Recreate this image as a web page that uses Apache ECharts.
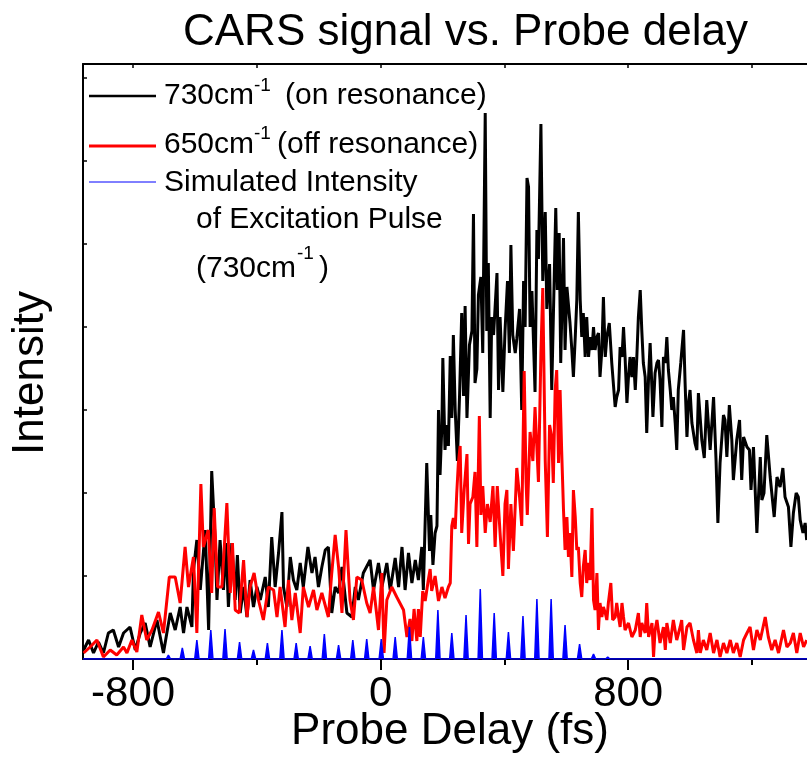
<!DOCTYPE html>
<html>
<head>
<meta charset="utf-8">
<script src="https://cdn.jsdelivr.net/npm/echarts@6/dist/echarts.min.js"></script>
<style>
html,body{margin:0;padding:0;background:#fff;}
#chart{width:807px;height:760px;}
</style>
</head>
<body>
<div id="chart"></div>
<script>
// ---- data (probe delay in fs, intensity in arbitrary units) ----
const onResDelay = [-960,-944,-928,-912,-896,-880,-864,-847,-831,-810,-793,-777,-761,-745,-723,-702,-680,-664,-648,-637,-626,-610,-605,-594,-583,-567,-556,-546,-535,-529,-519,-508,-500,-492,-481,-470,-463,-454,-443,-432,-422,-411,-400,-389,-373,-363,-352,-341,-330,-319,-314,-303,-292,-282,-271,-260,-250,-235,-222,-212,-201,-190,-179,-169,-158,-147,-136,-125,-109,-93,-82,-72,-56,-34,-23,-7,4,20,31,47,58,69,79,90,101,112,122,133,138,149,158,162,169,176,182,187,192,198,201,208,214,219,225,230,235,241,248,255,262,268,273,279,287,295,300,305,311,316,324,330,338,343,348,354,359,365,376,381,386,395,402,410,416,421,427,435,440,449,456,462,467,473,478,483,489,499,505,510,518,524,532,537,546,553,566,571,577,582,591,596,602,607,612,618,623,629,634,639,645,650,655,661,666,672,677,683,688,693,699,704,709,715,720,726,731,739,747,752,758,763,769,774,780,785,790,796,801,806,812,817,823,828,833,839,844,849,855,860,866,871,877,880,887,893,898,903,909,914,920,925,930,936,941,946,952,957,962,970,979,984,990,995,1000,1006,1011,1016,1022,1027,1038,1046,1054,1065,1076,1084,1090,1097,1108,1113,1119,1127,1135,1140,1151,1160,1167,1173,1184,1192,1197,1205,1216,1227,1232,1239,1248,1259,1272,1281,1291,1300,1307,1318,1326,1334,1343,1350,1356,1365,1372,1377];
const onResSignal = [9,19,6,17,6,26,29,12,26,32,9,26,36,12,39,6,46,29,52,26,52,32,89,119,69,129,29,188,119,59,119,69,116,52,116,59,104,46,72,42,79,52,72,59,82,52,122,72,106,147,72,52,102,79,69,96,72,112,86,102,72,92,109,112,46,72,66,92,46,42,72,59,86,99,69,96,72,96,69,101,72,112,69,106,76,99,79,112,69,196,108,144,94,126,133,249,184,234,301,209,234,213,303,241,324,249,198,263,346,263,353,241,314,328,445,276,290,364,382,306,546,328,396,241,342,324,386,269,342,267,328,378,306,414,324,306,320,350,249,378,332,481,472,332,368,267,429,400,535,378,447,350,395,269,451,369,426,296,421,309,372,372,336,309,282,322,359,447,359,322,346,302,342,302,322,309,332,309,322,326,282,309,362,302,322,336,296,276,252,262,269,312,302,332,302,256,282,302,282,302,269,302,342,369,329,296,282,226,282,316,269,242,286,296,299,279,232,302,296,322,289,269,249,262,236,209,269,296,329,276,222,256,269,236,236,216,209,266,219,201,259,209,262,199,136,196,244,239,202,254,219,179,219,239,179,222,212,209,169,212,126,202,159,166,224,182,142,182,172,191,162,152,112,146,166,162,139,126,136,119];

const offResDelay = [-960,-939,-917,-896,-874,-853,-831,-820,-804,-788,-772,-756,-739,-718,-702,-683,-664,-648,-632,-621,-605,-594,-581,-573,-557,-546,-538,-527,-513,-497,-486,-479,-470,-457,-443,-432,-422,-409,-395,-379,-363,-346,-335,-325,-309,-298,-287,-276,-260,-250,-233,-217,-206,-190,-169,-158,-147,-136,-125,-112,-99,-88,-77,-61,-45,-34,-23,-7,4,11,20,36,52,74,85,95,101,108,117,122,128,136,144,154,160,165,176,187,198,208,219,225,230,235,241,246,251,257,262,270,279,284,289,298,305,311,319,324,330,338,345,354,363,370,377,386,395,402,408,413,421,429,440,449,456,464,470,474,483,492,499,510,518,524,532,539,546,553,558,564,569,575,580,585,591,596,602,607,612,618,623,629,634,639,645,650,655,661,666,672,677,683,688,693,699,704,709,715,720,726,731,736,744,750,758,763,769,774,780,785,790,801,812,823,833,839,844,855,860,866,877,882,887,893,903,914,920,925,936,946,957,968,973,979,990,1000,1011,1022,1027,1033,1043,1054,1065,1076,1087,1097,1108,1119,1130,1140,1151,1162,1173,1184,1194,1205,1216,1227,1243,1253,1264,1275,1286,1302,1313,1324,1334,1345,1356,1367,1377];
const offResSignal = [6,12,19,2,9,4,12,6,19,7,44,19,29,47,26,82,82,56,112,72,102,26,175,112,129,66,151,72,72,156,66,116,49,46,99,42,72,86,59,39,72,69,42,72,32,79,39,66,26,72,52,69,49,66,42,86,124,92,46,129,59,39,82,79,56,46,72,29,86,6,59,72,62,49,22,40,18,50,18,50,22,68,58,79,90,68,83,58,72,61,72,76,133,141,130,166,195,213,126,169,205,115,155,162,187,112,243,144,173,126,155,137,173,112,173,126,83,155,169,90,155,108,191,162,133,288,177,144,227,198,252,177,306,371,198,122,234,222,176,269,289,196,269,209,149,109,142,102,126,82,169,142,109,112,76,62,92,109,76,96,79,151,59,49,86,29,56,42,52,46,39,56,76,39,42,56,42,32,56,42,29,36,22,29,46,22,36,26,56,22,36,2,29,39,16,32,9,36,16,39,19,32,39,9,32,36,19,6,29,6,19,9,26,6,19,2,16,6,19,6,16,2,19,26,32,9,29,19,42,22,9,19,6,29,12,16,26,6,26,12,19];

// simulated excitation pulse train (730 cm-1): peak centres and heights
const pulseCenter = [-686,-641,-594,-549,-503,-456,-411,-366,-319,-273,-228,-182,-136,-90,-45,2,47,93,138,185,230,276,322,367,413,460,505,551,596,643,688,734];
const pulseHeight = [4,11,19,29,30,17,9,16,29,16,13,25,14,19,20,20,22,32,22,49,26,44,70,46,27,43,60,60,34,15,5,2];
const pulseHalfWidth = 7;

const xTickMajor = [-800, 0, 800];
const xTickMinor = [-400, 400, 1200];
const xTickTop = [-800, -400, 0, 400, 800, 1200];

const delayMin = -962, delayMax = 1378;
const intensityMax = 595, intensityStep = 83;

// ---- build series data ----
const zip = (a, b) => a.map((v, i) => [v, b[i]]);
const pulseData = [[delayMin, 0]];
pulseCenter.forEach((c, i) => {
  pulseData.push([c - pulseHalfWidth, 0], [c, pulseHeight[i]], [c + pulseHalfWidth, 0]);
});
pulseData.push([delayMax, 0]);

const FF = '"Liberation Sans", Arial, Helvetica, sans-serif';
const chart = echarts.init(document.getElementById('chart'), null, {renderer: 'canvas'});

function txt(text, x, y, size, extra) {
  return Object.assign({
    type: 'text', x: x, y: y, z: 100,
    style: {text: text, fontSize: size, fontFamily: FF, fill: '#000', align: 'left', verticalAlign: 'middle'}
  }, extra || {});
}
function seg(x1, x2, y, color, w) {
  return {type: 'line', z: 100, shape: {x1: x1, y1: y, x2: x2, y2: y}, style: {stroke: color, lineWidth: w}};
}

chart.setOption({
  animation: false,
  backgroundColor: '#fff',
  grid: {left: 83, top: 64, right: 0, bottom: 101, containLabel: false},
  xAxis: [
    {
      type: 'value', min: delayMin, max: delayMax, position: 'bottom',
      axisLine: {show: true, onZero: false, lineStyle: {color: '#000', width: 2}},
      axisTick: {show: true, inside: false, length: 11, customValues: xTickMajor, lineStyle: {color: '#000', width: 2}},
      axisLabel: {show: true, customValues: xTickMajor, fontSize: 42, fontFamily: FF, color: '#000', margin: 14},
      splitLine: {show: false}
    },
    {
      type: 'value', min: delayMin, max: delayMax, position: 'bottom',
      axisLine: {show: false},
      axisTick: {show: true, inside: false, length: 6, customValues: xTickMinor, lineStyle: {color: '#000', width: 2}},
      axisLabel: {show: false},
      splitLine: {show: false}
    },
    {
      type: 'value', min: delayMin, max: delayMax, position: 'top',
      axisLine: {show: true, onZero: false, lineStyle: {color: '#000', width: 2}},
      axisTick: {show: true, inside: true, length: 4, customValues: xTickTop, lineStyle: {color: '#000', width: 1.5}},
      axisLabel: {show: false},
      splitLine: {show: false}
    }
  ],
  yAxis: {
    type: 'value', min: 0, max: intensityMax, interval: intensityStep, position: 'left',
    axisLine: {show: true, onZero: false, lineStyle: {color: '#000', width: 2}},
    axisTick: {show: true, inside: true, length: 4, lineStyle: {color: '#000', width: 1.5}},
    axisLabel: {show: false},
    splitLine: {show: false}
  },
  series: [
    {
      name: '730cm-1 (on resonance)', type: 'line', xAxisIndex: 0, data: zip(onResDelay, onResSignal),
      showSymbol: false, symbol: 'none', lineStyle: {color: '#000', width: 3, join: 'bevel'}, z: 3
    },
    {
      name: '650cm-1 (off resonance)', type: 'line', xAxisIndex: 0, data: zip(offResDelay, offResSignal),
      showSymbol: false, symbol: 'none', lineStyle: {color: '#ff0000', width: 3, join: 'bevel'}, z: 4
    },
    {
      name: 'Simulated Intensity of Excitation Pulse (730cm-1)', type: 'line', xAxisIndex: 0, data: pulseData,
      showSymbol: false, symbol: 'none', lineStyle: {color: '#0000ff', width: 1.5},
      areaStyle: {color: '#0000ff', opacity: 1}, z: 5
    }
  ],
  graphic: [
    txt('CARS signal vs. Probe delay', 183, 33, 44),
    txt('Probe Delay (fs)', 450, 732, 44, {style: {text: 'Probe Delay (fs)', fontSize: 44, fontFamily: FF, fill: '#000', align: 'center', verticalAlign: 'middle'}}),
    {type: 'text', x: 31, y: 373, rotation: Math.PI / 2, z: 100,
      style: {text: 'Intensity', fontSize: 44, fontFamily: FF, fill: '#000', align: 'center', verticalAlign: 'middle'}},
    seg(89, 156, 96, '#000', 2.7),
    txt('730cm', 164, 96, 30),
    txt('-1', 254, 86, 19),
    txt('(on resonance)', 285, 96, 30),
    seg(89, 156, 146, '#ff0000', 3),
    txt('650cm', 164, 145, 30),
    txt('-1', 254, 134, 19),
    txt('(off resonance)', 277, 145, 30),
    seg(89, 156, 182, '#0000ff', 1),
    txt('Simulated Intensity', 164, 182.5, 30),
    txt('of Excitation Pulse', 196, 219.5, 30),
    txt('(730cm', 196, 268.5, 30),
    txt('-1', 297, 254, 19),
    txt(')', 319, 268.5, 30)
  ]
});
</script>
</body>
</html>
